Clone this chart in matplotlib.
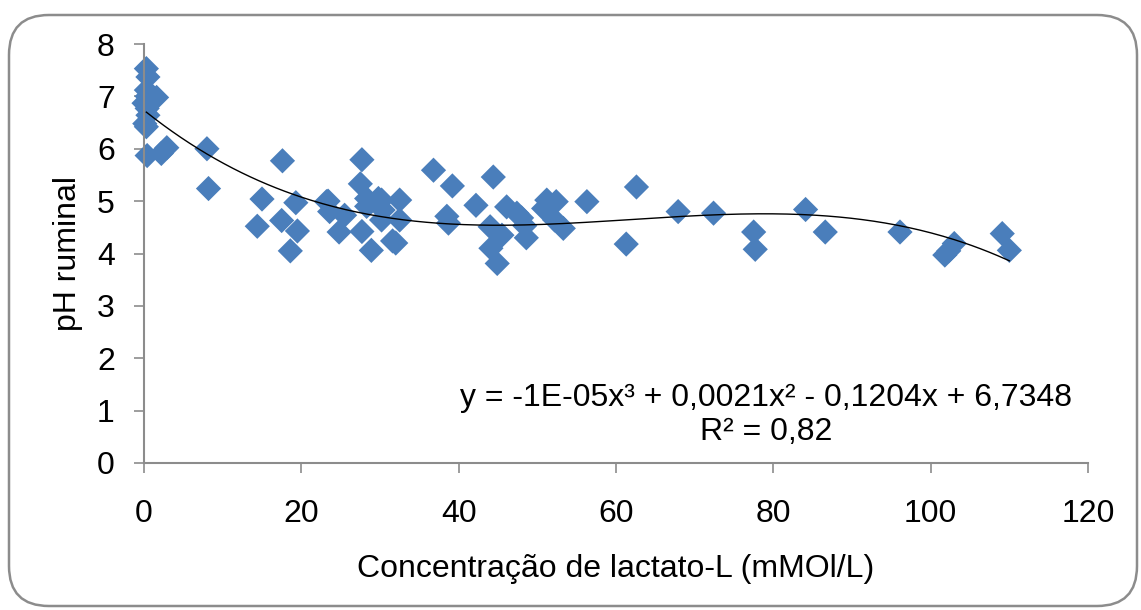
import numpy as np
import matplotlib
matplotlib.use("Agg")
import matplotlib.pyplot as plt
from matplotlib.patches import FancyBboxPatch

plt.rcParams["font.family"] = ["Liberation Sans", "DejaVu Sans"]

# lactate concentration (mM/L) and ruminal pH
lactato = [
    0.3, 0.5, 0.3, 0.4, 1.0, 1.6, 0.0, 0.4, 0.5, 0.1, 0.3, 0.4,
    2.2, 2.9, 8.0, 8.2,
    17.6, 15.0, 14.4, 17.5, 19.3, 19.5, 18.6,
    23.2, 23.6, 25.5, 24.8, 23.4,
    27.7, 27.5, 28.3, 28.3, 29.8, 30.2, 32.5, 30.4, 30.2, 32.5,
    27.7, 28.9, 31.6, 32.0,
    36.8, 39.2, 44.4, 42.2, 38.5, 38.7,
    46.1, 47.4, 48.0, 48.4, 44.0, 45.5, 48.6, 44.1, 44.9,
    50.8, 51.2, 52.4, 52.2, 53.3,
    56.3, 62.6, 61.3, 67.9, 72.4, 77.5, 77.7,
    84.1, 86.6, 96.1, 101.8, 102.3, 103.0, 109.1, 110.0,
]
ph = [
    7.53, 7.37, 7.12, 7.00, 6.96, 6.98, 6.87, 6.77, 6.64, 6.48, 6.42, 5.87,
    5.91, 6.02, 6.00, 5.24,
    5.77, 5.04, 4.52, 4.63, 4.97, 4.43, 4.05,
    4.99, 4.80, 4.73, 4.41, 5.00,
    5.79, 5.33, 5.05, 4.90, 5.05, 5.02, 5.02, 4.83, 4.64, 4.64,
    4.42, 4.06, 4.24, 4.20,
    5.59, 5.29, 5.46, 4.92, 4.71, 4.58,
    4.89, 4.77, 4.68, 4.53, 4.51, 4.35, 4.30, 4.10, 3.81,
    4.86, 5.02, 4.99, 4.64, 4.48,
    4.99, 5.27, 4.18, 4.80, 4.77, 4.41, 4.08,
    4.84, 4.41, 4.41, 3.97, 4.05, 4.19, 4.38, 4.06,
]

# polynomial trendline coefficients (cubic term)
coef = [-1.13e-05, 0.0021, -0.1204, 6.7348]
x_range = [0.3, 110.0]

fig = plt.figure(figsize=(11.41, 6.10), dpi=100)

# rounded chart frame
frame = FancyBboxPatch((9 / 1141, 4 / 610), 1128 / 1141, 591 / 610,
                       boxstyle="round,pad=0,rounding_size=0.035",
                       transform=fig.transFigure, facecolor="none",
                       edgecolor="#8c8c8c", linewidth=1.8,
                       mutation_aspect=1141 / 610, zorder=-1)
fig.patches.append(frame)

ax = fig.add_axes([144 / 1141, (610 - 463) / 610, (1088 - 144) / 1141, (463 - 44) / 610])
ax.patch.set_alpha(0)

ax.scatter(lactato, ph, marker="D", s=165, color="#4a7ebb", edgecolors="none",
           zorder=2, clip_on=False)

xs = np.linspace(x_range[0], x_range[1], 300)
ax.plot(xs, np.polyval(coef, xs), color="black", linewidth=1.0, zorder=3)

ax.set_xlim(0, 120)
ax.set_ylim(0, 8)
ax.set_xticks(range(0, 121, 20))
ax.set_yticks(range(0, 9))

for side in ["top", "right"]:
    ax.spines[side].set_visible(False)
for side in ["left", "bottom"]:
    ax.spines[side].set_color("#8c8c8c")
    ax.spines[side].set_linewidth(1.5)

ax.tick_params(axis="both", direction="out", length=7, width=1.2, color="#8c8c8c",
               labelsize=23, labelcolor="black")
ax.tick_params(axis="y", pad=14)
ax.tick_params(axis="x", pad=19)

ax.set_xlabel("Concentração de lactato-L (mMOl/L)", fontsize=23, labelpad=18)
ax.set_ylabel("pH ruminal", fontsize=23, labelpad=10)

ax.text(0.659, 0.115, "y = -1E-05x³ + 0,0021x² - 0,1204x + 6,7348\nR² = 0,82",
        transform=ax.transAxes, ha="center", va="center", fontsize=23,
        linespacing=1.2)

fig.savefig("out.png", dpi=100)
